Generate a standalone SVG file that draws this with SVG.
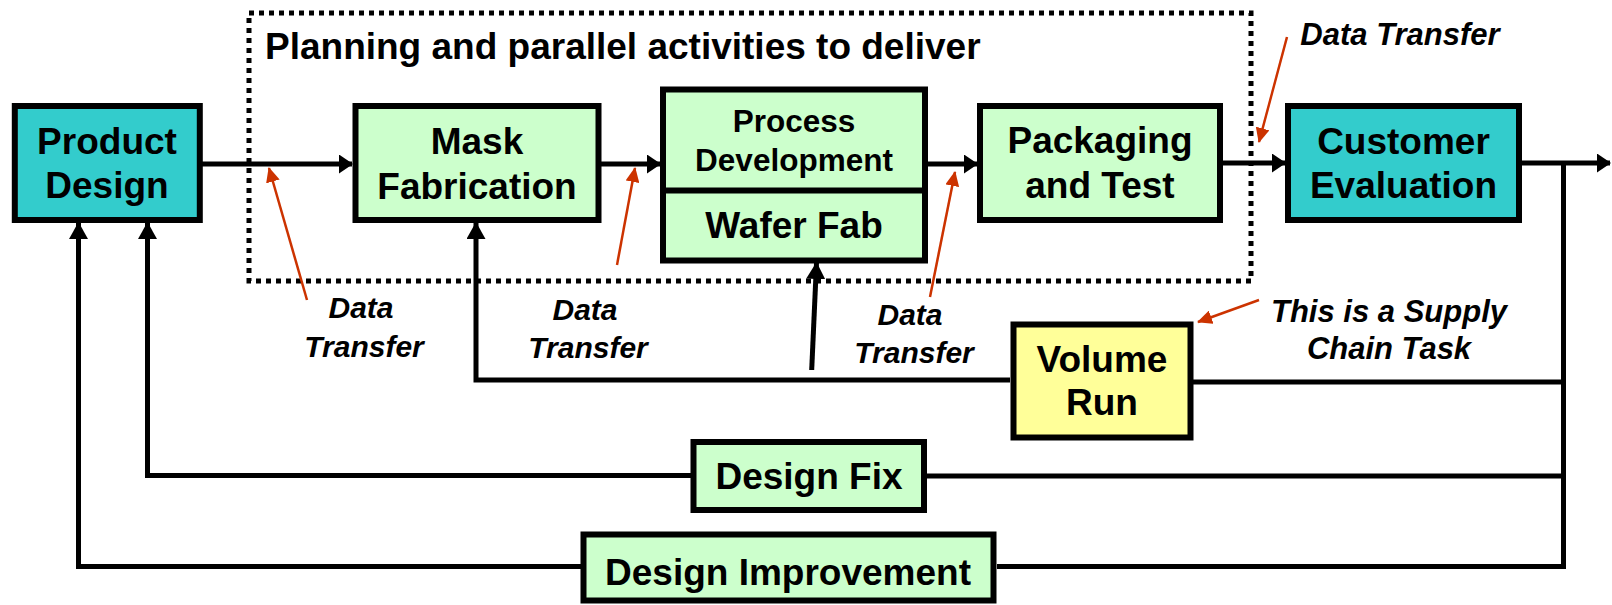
<svg xmlns="http://www.w3.org/2000/svg" width="1612" height="605" viewBox="0 0 1612 605">
<style>
  text { font-family: "Liberation Sans", Arial, sans-serif; font-weight: bold; fill: #000; }
  .big { font-size: 37px; text-anchor: middle; }
  .mid { font-size: 31.5px; text-anchor: middle; }
  .lbl { font-size: 30px; font-style: italic; text-anchor: middle; }
  .box { stroke: #000; stroke-width: 6; }
  .green { fill: #CCFFCC; }
  .cyan { fill: #33CCCC; }
  .yellow { fill: #FFFF99; }
  .conn { fill: none; stroke: #000; stroke-width: 5; stroke-linejoin: miter; }
  .red { fill: none; stroke: #CC3300; stroke-width: 2.5; }
</style>
<defs>
  <marker id="ah" markerUnits="userSpaceOnUse" markerWidth="14" markerHeight="19" viewBox="0 0 14 19" refX="13" refY="9.5" orient="auto">
    <path d="M0 0 L14 9.5 L0 19 Z" fill="#000"/>
  </marker>
  <marker id="av" markerUnits="userSpaceOnUse" markerWidth="17" markerHeight="19" viewBox="0 0 17 19" refX="16" refY="9.5" orient="auto">
    <path d="M0 0 L17 9.5 L0 19 Z" fill="#000"/>
  </marker>
  <marker id="ar" markerUnits="userSpaceOnUse" markerWidth="15" markerHeight="14" viewBox="0 0 15 14" refX="14" refY="7" orient="auto">
    <path d="M0 0 L15 7 L0 14 Z" fill="#CC3300"/>
  </marker>
</defs>

<g id="planning-group">
  <rect x="249" y="13" width="1002" height="268" fill="none" stroke="#000" stroke-width="5" stroke-dasharray="5 5"/>
  <text x="265" y="59" style="font-size:37px">Planning and parallel activities to deliver</text>
</g>

<g id="connectors">
  <path class="conn" d="M202 164 H352" marker-end="url(#ah)"/>
  <path class="conn" d="M601 164 H660" marker-end="url(#ah)"/>
  <path class="conn" d="M928 164 H977" marker-end="url(#ah)"/>
  <path class="conn" d="M1223 163 H1285" marker-end="url(#ah)"/>
  <path class="conn" d="M1522 163 H1610" marker-end="url(#ah)"/>
  <path class="conn" d="M1563.5 163 V567"/>
  <path class="conn" d="M1193 382 H1563.5"/>
  <path class="conn" d="M1010 380 H476 V223" marker-end="url(#av)"/>
  <path class="conn" d="M811.7 370 L816.5 263" stroke-width="6" marker-end="url(#av)"/>
  <path class="conn" d="M927 476 H1563.5"/>
  <path class="conn" d="M691 475.5 H147.5 V223" marker-end="url(#av)"/>
  <path class="conn" d="M997 566.5 H1566"/>
  <path class="conn" d="M581 566.5 H78.5 V223" marker-end="url(#av)"/>
  <!-- red data transfer pointers -->
  <path class="red" d="M307 300 L269 168" marker-end="url(#ar)"/>
  <path class="red" d="M617 265 L635 168" marker-end="url(#ar)"/>
  <path class="red" d="M930 297 L955 172" marker-end="url(#ar)"/>
  <path class="red" d="M1287 37 L1259 142" marker-end="url(#ar)"/>
  <path class="red" d="M1259 300 L1198 322" marker-end="url(#ar)"/>
</g>

<g id="product-design">
  <rect class="box cyan" x="14.8" y="106" width="185" height="114"/>
  <text class="big" x="107" y="154">Product</text>
  <text class="big" x="107" y="198">Design</text>
</g>

<g id="mask-fabrication">
  <rect class="box green" x="355.5" y="106" width="243" height="114"/>
  <text class="big" x="477" y="154">Mask</text>
  <text class="big" x="477" y="199">Fabrication</text>
</g>

<g id="process-wafer">
  <rect class="box green" x="663" y="89.5" width="262" height="171"/>
  <line x1="663" y1="190.5" x2="925" y2="190.5" stroke="#000" stroke-width="6"/>
  <text class="mid" x="794" y="132">Process</text>
  <text class="mid" x="794" y="171">Development</text>
  <text class="big" x="794" y="238">Wafer Fab</text>
</g>

<g id="packaging-test">
  <rect class="box green" x="980" y="106" width="240" height="114"/>
  <text class="big" x="1100" y="153">Packaging</text>
  <text class="big" x="1100" y="198">and Test</text>
</g>

<g id="customer-evaluation">
  <rect class="box cyan" x="1288" y="106" width="231" height="114"/>
  <text class="big" x="1403.5" y="154">Customer</text>
  <text class="big" x="1403.5" y="198">Evaluation</text>
</g>

<g id="volume-run">
  <rect class="box yellow" x="1013.5" y="324.5" width="177" height="113"/>
  <text class="big" x="1102" y="372">Volume</text>
  <text class="big" x="1102" y="415">Run</text>
</g>

<g id="design-fix">
  <rect class="box green" x="693.5" y="442" width="230.5" height="68"/>
  <text class="big" x="809" y="489">Design Fix</text>
</g>

<g id="design-improvement">
  <rect class="box green" x="583.5" y="534.5" width="410" height="66"/>
  <text class="big" x="788" y="585">Design Improvement</text>
</g>

<g id="labels">
  <text class="lbl" x="1400" y="45" style="font-size:31px">Data Transfer</text>
  <text class="lbl" x="1389" y="322" style="font-size:31px">This is a Supply</text>
  <text class="lbl" x="1389" y="359" style="font-size:31px">Chain Task</text>
  <text class="lbl" x="361" y="318">Data</text>
  <text class="lbl" x="364" y="357">Transfer</text>
  <text class="lbl" x="585" y="320">Data</text>
  <text class="lbl" x="588" y="358">Transfer</text>
  <text class="lbl" x="910" y="325">Data</text>
  <text class="lbl" x="914" y="363">Transfer</text>
</g>
</svg>
